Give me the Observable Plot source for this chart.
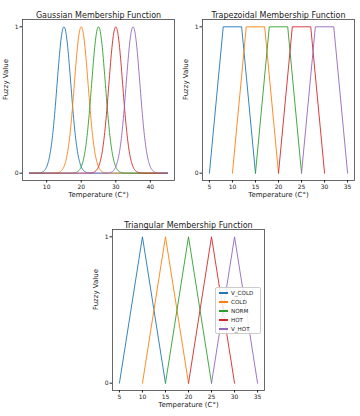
<!DOCTYPE html>
<html><head><meta charset="utf-8">
<script src="https://cdn.jsdelivr.net/npm/d3@7"></script>
<script src="https://cdn.jsdelivr.net/npm/@observablehq/plot@0.6"></script>
<style>
body{margin:0;background:#fff;font-family:"DejaVu Sans",sans-serif;}
#wrap{position:relative;width:360px;height:416px;overflow:hidden;background:#fff;}
.panel{position:absolute;}
#legend{position:absolute;left:215px;top:287px;width:44px;height:45px;border:1px solid #ccc;border-radius:2px;background:rgba(255,255,255,0.85);font-size:5.6px;color:#222;}
#legend .row{position:absolute;left:3px;height:8px;display:flex;align-items:center;}
#legend .sw{width:9px;height:1.1px;margin-right:3px;}
</style></head>
<body><div id="wrap"></div>
<script>
const names = ["V_COLD","COLD","NORM","HOT","V_HOT"];
const colors = ["#1f77b4","#ff7f0e","#2ca02c","#d62728","#9467bd"];
// Gaussian membership parameters (center, sigma) and universe
const gaussCenters = [15,20,25,30,35];
const gaussSigmas = [2,2,2,2,2];
const gaussUniverse = [5,45];
// Trapezoid vertices (a,b,c,d)
const trapPoints = [[5,8,12,15],[10,13,17,20],[15,18,22,25],[20,23,27,30],[25,28,32,35]];
const trapLevels = [0,1,1,0];
// Triangle vertices (a,b,c)
const triPoints = [[5,10,15],[10,15,20],[15,20,25],[20,25,30],[25,30,35]];
const triLevels = [0,1,0];
const gaussTicks = [10,20,30,40];
const linTicks = [5,10,15,20,25,30,35];
const yTicks = [0,1];

const gaussData = [];
names.forEach((n,i)=>{
  for(let k=0;k<=400;k++){
    const x = gaussUniverse[0] + k*(gaussUniverse[1]-gaussUniverse[0])/400;
    gaussData.push({name:n,x,y:Math.exp(-((x-gaussCenters[i])**2)/(2*gaussSigmas[i]**2))});
  }
});
const trapData = [];
names.forEach((n,i)=>trapPoints[i].forEach((x,j)=>trapData.push({name:n,x,y:trapLevels[j]})));
const triData = [];
names.forEach((n,i)=>triPoints[i].forEach((x,j)=>triData.push({name:n,x,y:triLevels[j]})));

function panel(title, data, xdom, xticks){
  return Plot.plot({
    width:180, height:206,
    marginLeft:22, marginRight:6, marginTop:19, marginBottom:26,
    style:{fontFamily:"DejaVu Sans", fontSize:"6px", color:"#222", background:"transparent"},
    x:{domain:xdom, label:null},
    y:{domain:[-0.05,1.05], label:null},
    color:{domain:names, range:colors},
    marks:[
      Plot.line(data,{x:"x",y:"y",z:"name",stroke:"name",strokeWidth:0.9}),
      Plot.frame({stroke:"#444",strokeWidth:0.8}),
      Plot.axisX({ticks:xticks, tickFormat:d=>String(d), tickSize:2.5, tickPadding:1.5, fontSize:6, label:null}),
      Plot.axisY({ticks:yTicks, tickFormat:d=>String(d), tickSize:2.5, tickPadding:1.5, fontSize:6, label:null}),
      Plot.text(["Temperature (C°)"],{frameAnchor:"bottom", dy:16, fontSize:7, fill:"#222"}),
      Plot.text(["Fuzzy Value"],{frameAnchor:"left", dx:-17, rotate:-90, fontSize:7, fill:"#222"}),
      Plot.text([title],{frameAnchor:"top", dy:-7, fontSize:8, fill:"#222"})
    ]
  });
}
const wrap = document.getElementById("wrap");
function place(el,l,t){el.classList.add("panel");el.style.left=l+"px";el.style.top=t+"px";wrap.appendChild(el);}
place(panel("Gaussian Membership Function", gaussData, [3,47], gaussTicks),0,0);
place(panel("Trapezoidal Membership Function", trapData, [3.5,36.5], linTicks),180,0);
place(panel("Triangular Membership Function", triData, [3.5,36.5], linTicks),90,210);
const leg = document.createElement("div"); leg.id="legend";
names.forEach((n,i)=>{
  const r=document.createElement("div"); r.className="row"; r.style.top=(1+i*9)+"px";
  r.innerHTML=`<span class="sw" style="background:${colors[i]}"></span><span>${n}</span>`;
  leg.appendChild(r);
});
wrap.appendChild(leg);
</script></body></html>
